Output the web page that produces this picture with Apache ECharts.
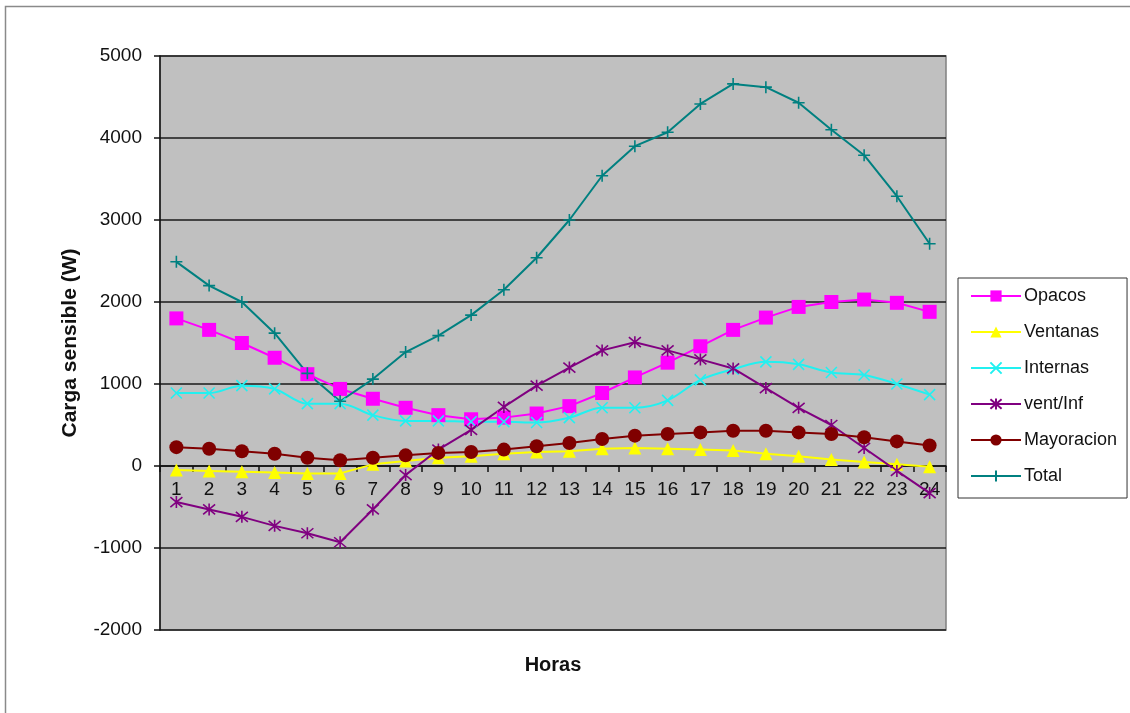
<!DOCTYPE html>
<html>
<head>
<meta charset="utf-8">
<script src="https://cdn.jsdelivr.net/npm/echarts@6/dist/echarts.min.js"></script>
<style>
  html, body { margin: 0; padding: 0; background: #fff; }
  #chart { width: 1130px; height: 713px; }
</style>
</head>
<body>
<div id="chart"></div>
<script>
// Hourly sensible load components (W)
const horas = ['1','2','3','4','5','6','7','8','9','10','11','12','13','14','15','16','17','18','19','20','21','22','23','24'];

const opacos     = [1800,1660,1500,1320,1120,940,820,710,620,570,590,640,730,890,1080,1260,1460,1660,1810,1940,2000,2030,1990,1880];
const ventanas   = [-50,-60,-70,-80,-90,-90,20,60,100,120,150,170,180,210,220,210,200,190,150,120,80,50,20,-10];
const internas   = [890,890,980,940,760,760,620,550,550,540,540,530,590,710,710,800,1050,1180,1270,1240,1140,1110,1000,870];
const ventInf    = [-440,-530,-620,-730,-820,-930,-530,-110,200,440,720,980,1200,1410,1510,1410,1300,1190,950,710,500,220,-60,-330];
const mayoracion = [230,210,180,150,100,70,100,130,160,170,200,240,280,330,370,390,410,430,430,410,390,350,300,250];
const total      = [2490,2200,2000,1620,1130,790,1060,1390,1590,1840,2150,2540,3000,3540,3900,4070,4415,4660,4620,4430,4100,3790,3290,2710];

const yTicks = { min: -2000, max: 5000, step: 1000 };

const FONT = '"Liberation Sans", Arial, sans-serif';

// Stroked marker shapes
const SYM_X = 'path://M0,0L10,10M10,0L0,10';
const SYM_STAR = 'path://M0,0L10,10M10,0L0,10M5,-1L5,11';
const SYM_PLUS = 'path://M5,0L5,10M0,5L10,5';

function lineSeries(name, data, color, symbol, size, opts) {
  const stroked = symbol.startsWith('path://');
  return Object.assign({
    name: name,
    type: 'line',
    data: data,
    symbol: symbol,
    symbolSize: size,
    showAllSymbol: true,
    lineStyle: { color: color, width: 2 },
    itemStyle: stroked
      ? { color: color, borderColor: color, borderWidth: 1.6 }
      : { color: color, borderWidth: 0 },
    emphasis: { disabled: true },
    animation: false
  }, opts || {});
}

const chart = echarts.init(document.getElementById('chart'), null, { renderer: 'canvas' });

chart.setOption({
  backgroundColor: '#ffffff',
  animation: false,
  textStyle: { fontFamily: FONT },
  graphic: [
    {
      type: 'rect',
      shape: { x: 5.5, y: 6.5, width: 1140, height: 740 },
      style: { fill: 'none', stroke: '#8a8a8a', lineWidth: 1.5 },
      silent: true,
      z: -10
    }
  ],
  grid: {
    left: 160, right: 184, top: 56, bottom: 83,
    containLabel: false,
    outerBoundsMode: 'none',
    show: true,
    backgroundColor: '#c0c0c0',
    borderColor: '#808080',
    borderWidth: 1.5
  },
  legend: {
    orient: 'vertical',
    left: 958,
    top: 278,
    padding: [9, 10, 13, 12],
    itemGap: 18,
    itemWidth: 50,
    itemHeight: 14,
    backgroundColor: '#ffffff',
    borderColor: '#333333',
    borderWidth: 1,
    borderRadius: 0,
    textStyle: { fontFamily: FONT, fontSize: 18, color: '#111', padding: [0, 0, 0, -2] },
    data: ['Opacos', 'Ventanas', 'Internas', 'vent/Inf', 'Mayoracion', 'Total']
  },
  xAxis: {
    type: 'category',
    data: horas,
    boundaryGap: true,
    name: 'Horas',
    nameLocation: 'middle',
    nameGap: 25,
    nameTextStyle: { fontFamily: FONT, fontSize: 20, fontWeight: 'bold', color: '#111' },
    axisLine: { onZero: true, lineStyle: { color: '#111', width: 1.5 } },
    axisTick: { show: true, alignWithLabel: false, inside: false, length: 6, lineStyle: { color: '#111', width: 1.5 } },
    axisLabel: { fontFamily: FONT, fontSize: 19, color: '#111', margin: -150, interval: 0 },
    splitLine: { show: false }
  },
  yAxis: {
    type: 'value',
    min: yTicks.min,
    max: yTicks.max,
    interval: yTicks.step,
    name: 'Carga sensible (W)',
    nameLocation: 'middle',
    nameGap: 79,
    nameRotate: 90,
    nameTextStyle: { fontFamily: FONT, fontSize: 21, fontWeight: 'bold', color: '#111' },
    axisLine: { show: true, lineStyle: { color: '#111', width: 1.5 } },
    axisTick: { show: true, length: 6, lineStyle: { color: '#111', width: 1.5 } },
    axisLabel: { fontFamily: FONT, fontSize: 19, color: '#111', margin: 18, formatter: v => String(v) },
    splitLine: { show: true, lineStyle: { color: '#1a1a1a', width: 1.5 } }
  },
  series: [
    lineSeries('Opacos', opacos, '#ff00ff', 'rect', 14),
    lineSeries('Ventanas', ventanas, '#ffff00', 'triangle', 13),
    lineSeries('Internas', internas, '#22f0f0', SYM_X, 11, { smooth: 0.35 }),
    lineSeries('vent/Inf', ventInf, '#800080', SYM_STAR, 12),
    lineSeries('Mayoracion', mayoracion, '#800000', 'circle', 14),
    lineSeries('Total', total, '#008080', SYM_PLUS, 12)
  ]
});
</script>
</body>
</html>
